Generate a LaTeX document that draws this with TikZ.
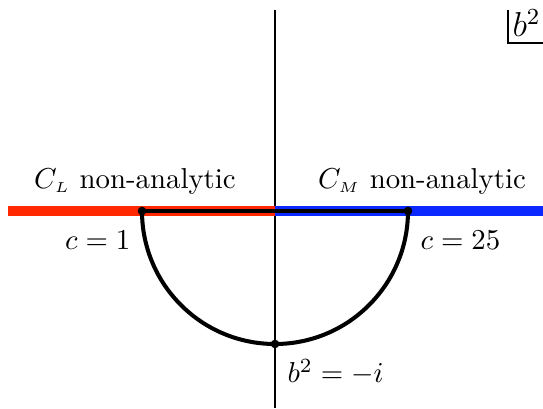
\documentclass[tikz,border=0pt]{standalone}
\usepackage{amsmath}
\usetikzlibrary{positioning}
\definecolor{cLred}{RGB}{255,40,0}
\definecolor{cMblue}{RGB}{10,40,255}

\begin{document}
\begin{tikzpicture}[
  x=0.347pt, y=0.347pt,
  axis/.style={draw=black, line width=0.4pt},
  band/.style={line width=3.5pt},
  contour/.style={draw=black, line width=1.4pt},
  pt/.style={circle, fill=black, inner sep=0pt, minimum size=3pt},
  lbl/.style={inner sep=0pt}
]
\useasboundingbox (0,0) rectangle (543,408);
% axes
\coordinate (top) at (275,398);
\coordinate (bot) at (275,0);
\coordinate (left) at (8,197);
\coordinate (orig) at (275,197);
\coordinate (right) at (543,197);
\draw[axis] (top) -- (bot);
% non-analytic half lines
\draw[band, cLred] (left) -- (orig);
\draw[band, cMblue] (orig) -- (right);
% contour
\node[pt] (p1) at (142,197) {};
\node[pt] (p25) at (408,197) {};
\node[pt] (pi) at (275,64) {};
\draw[contour] (p1.center) -- (p25.center);
\draw[contour] (p1.center) arc[start angle=180, end angle=360, radius=133];
% labels
\node[lbl] (tL) at (135,227) {$C_{\scriptscriptstyle L}$ non-analytic};
\node[lbl] (tM) at (422,227) {$C_{\scriptscriptstyle M}$ non-analytic};
\node[lbl, anchor=east] (l1) at (131,168) {$c=1$};
\node[lbl, anchor=west] (l25) at (420,168) {$c=25$};
\node[lbl, anchor=west] (li) at (287,36) {$b^2=-i$};
% plane label
\node[lbl, font=\large, anchor=west] (plane) at (512,385) {$b^2$};
\coordinate (cnr) at (508,365);
\draw[axis] (508,398) -- (cnr) -- (543,365);
\end{tikzpicture}
\end{document}
